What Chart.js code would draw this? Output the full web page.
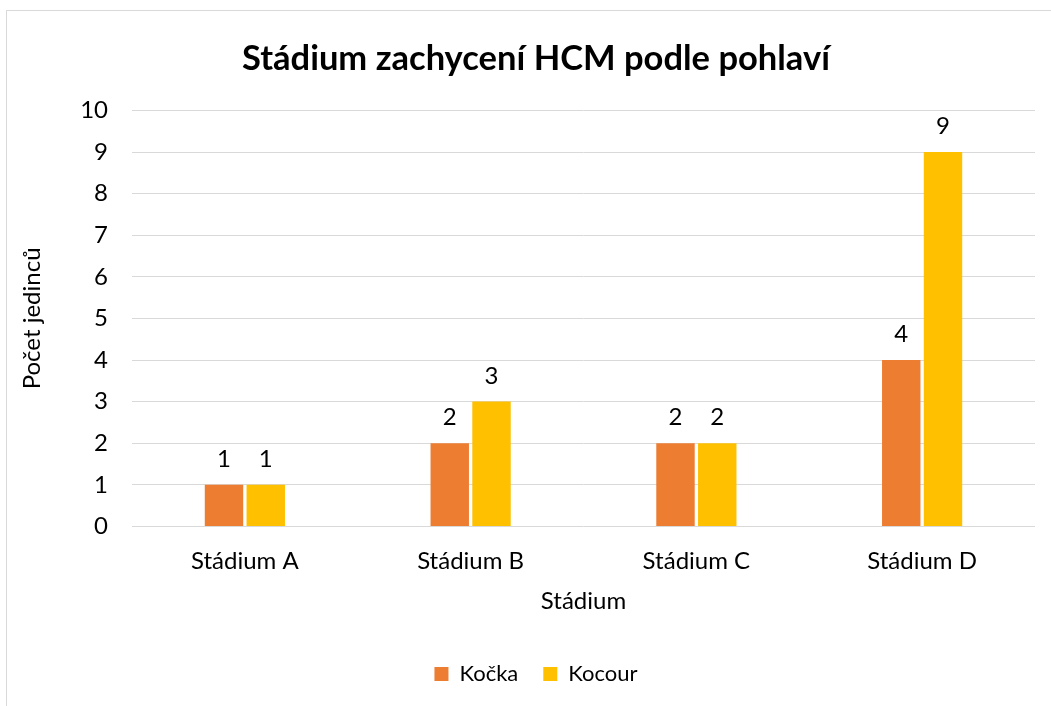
<!DOCTYPE html>
<html>
<head>
<meta charset="utf-8">
<script src="https://cdn.jsdelivr.net/npm/chart.js@4.4.0/dist/chart.umd.min.js"></script>
<style>
html, body { margin: 0; padding: 0; background: #fff; overflow: hidden; }
#wrap { position: relative; width: 1051px; height: 706px; }
#frame { position: absolute; left: 6px; top: 10px; width: 1100px; height: 800px; border: 1px solid #d9d9d9; box-sizing: border-box; }
#chart { position: absolute; left: 0; top: 0; }
</style>
</head>
<body>
<div id="wrap">
    <div id="frame"></div>
    <canvas id="chart" width="1051" height="706"></canvas>
</div>
<script>
const categories = ['Stádium A', 'Stádium B', 'Stádium C', 'Stádium D'];
const kockaValues = [1, 2, 2, 4];
const kocourValues = [1, 3, 2, 9];
const yMin = 0;
const yMax = 10;
const yStep = 1;

const FONT = 'Lato, "Open Sans", sans-serif';

// values above each bar
const barValueLabels = {
    id: 'barValueLabels',
    afterDatasetsDraw(chart) {
        const ctx = chart.ctx;
        ctx.save();
        ctx.font = '24px ' + FONT;
        ctx.fillStyle = '#000';
        ctx.textAlign = 'center';
        ctx.textBaseline = 'alphabetic';
        chart.data.datasets.forEach((ds, i) => {
            chart.getDatasetMeta(i).data.forEach((bar, j) => {
                ctx.fillText(ds.data[j], bar.x, bar.y - 18);
            });
        });
        ctx.restore();
    }
};

const ctx = document.getElementById('chart').getContext('2d');
new Chart(ctx, {
    type: 'bar',
    data: {
        labels: categories,
        datasets: [
            { label: 'Kočka', data: kockaValues, backgroundColor: '#ED7D31' },
            { label: 'Kocour', data: kocourValues, backgroundColor: '#FFC000' }
        ]
    },
    options: {
        responsive: false,
        animation: false,
        devicePixelRatio: 1,
        // left padding pushes title/legend centre to the right like the original
        layout: { padding: { left: 37, right: 16, top: 0, bottom: 11 } },
        datasets: { bar: { categoryPercentage: 0.37, barPercentage: 0.92 } },
        plugins: {
            title: {
                display: true,
                text: 'Stádium zachycení HCM podle pohlaví',
                color: '#000',
                font: { family: FONT, size: 34.5, weight: 'bold' },
                padding: { top: 38, bottom: 31 }
            },
            legend: {
                position: 'bottom',
                labels: {
                    color: '#000',
                    font: { family: FONT, size: 22 },
                    boxWidth: 14,
                    boxHeight: 14,
                    padding: 25
                }
            },
            tooltip: { enabled: false }
        },
        scales: {
            x: {
                grid: { display: false },
                border: { display: false },
                ticks: { color: '#000', font: { family: FONT, size: 24 }, padding: 12 },
                title: {
                    display: true,
                    text: 'Stádium',
                    color: '#000',
                    font: { family: FONT, size: 24 },
                    padding: { top: 0, bottom: 22 }
                }
            },
            y: {
                min: yMin,
                max: yMax,
                grid: { color: '#d9d9d9', lineWidth: 1, drawTicks: false },
                border: { display: false },
                ticks: { stepSize: yStep, color: '#000', font: { family: FONT, size: 24 }, padding: 24 },
                title: {
                    display: true,
                    text: 'Počet jedinců',
                    color: '#000',
                    font: { family: FONT, size: 24 },
                    padding: { top: -19, bottom: 0 }
                },
                afterFit(scale) { scale.width = 95; }
            }
        }
    },
    plugins: [barValueLabels]
});
</script>
</body>
</html>
